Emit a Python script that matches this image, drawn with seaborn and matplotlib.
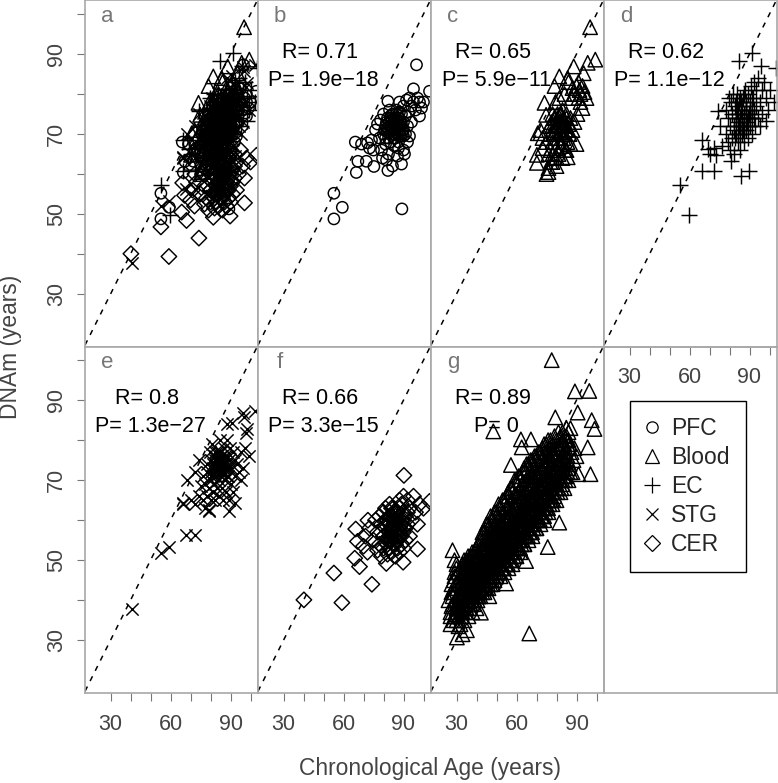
import matplotlib
matplotlib.use("Agg")
import matplotlib.pyplot as plt
from matplotlib.lines import Line2D
import pandas as pd
import seaborn as sns

pfc_age = [96.5, 95, 82.2, 103, 55.2, 59.4, 55.2, 89.2, 66.4, 67.2,
           71.4, 75.2, 82.2, 65.9, 69, 72, 73, 74, 76, 75,
           77, 78, 78.5, 79, 79.5, 80, 80, 81, 81, 81.5,
           82, 82, 82.5, 83, 83, 83.5, 84, 84, 84.5, 85,
           85, 85.5, 86, 86, 86.5, 87, 87, 87.5, 87.5, 88,
           88, 88.5, 89, 89, 89.5, 90, 90, 90, 90.5, 91,
           91, 91.5, 92, 92, 92.5, 93, 93, 94, 94, 95,
           96, 97, 98, 98, 99, 100, 90, 85, 83, 87,
           80.5, 81.5, 82.5, 83.5, 84.5, 85.5, 86.5, 87.5, 88.5, 89.5,
           81, 82, 83, 84, 85, 86, 87, 88, 89, 90,
           83.5, 84.5, 85.5, 86.5, 87.5, 84, 86, 88, 85, 87]
pfc_dnam = [87.3, 81.3, 78.2, 80.7, 55.2, 51.7, 48.8, 51.3, 60.4, 63.2,
            63.2, 61.9, 60.9, 68, 67.5, 67.8, 66.5, 68.5, 71, 66,
            72.5, 69, 73.5, 66, 64, 70, 75, 72, 67.5, 63.5,
            74, 70.5, 65, 72, 76, 68, 73, 70, 62, 75,
            71.5, 67, 73, 69, 76, 71, 64.5, 74, 66.5, 72,
            78, 69.5, 75, 62.5, 71, 77, 73, 66, 65, 74.5,
            70, 78.5, 72, 68, 75.5, 79, 69.5, 77, 73, 78,
            76, 79, 78, 74.5, 76.5, 78, 71, 73, 71, 73,
            71, 73, 69, 74, 72, 70, 75, 68, 73, 70,
            69, 71.5, 73, 71, 69, 72, 70, 75.5, 72.5, 69.5,
            74.5, 75, 74, 72, 72.5, 71.5, 70.5, 71, 70, 73.5]

blood_age = [96.8, 99.4, 95.6, 88.6, 93.6, 81.4, 85.6, 70.2, 70.2, 76,
             85.6, 80, 74, 74.8, 70.6, 79, 75, 76, 77, 73,
             73, 72, 76.5, 78, 78, 79, 79, 79.5, 80, 80,
             80.5, 81, 81, 81.5, 82, 82, 82.5, 83, 83, 83.5,
             84, 84, 84.5, 85, 85, 85.5, 86, 86, 86.5, 87,
             87, 87.5, 88, 88, 89, 89, 90, 90, 90.5, 91,
             91, 91.5, 92, 92, 93, 93, 94, 95, 82, 84,
             77, 78, 79, 80, 81, 82, 83, 84, 85, 86,
             77.5, 78.5, 79.5, 80.5, 81.5, 82.5, 83.5, 84.5, 78, 80,
             76, 77, 78, 79, 75, 80, 81, 82, 83, 85]
blood_dnam = [96.7, 88.6, 87.8, 86.9, 85.2, 84.4, 84, 64.8, 62.8, 60.5,
              64.2, 64.2, 77.8, 74.8, 70.2, 82, 60, 61.5, 63, 66.5,
              69, 71, 72, 65, 68, 70.5, 74, 78, 66.5, 72,
              75, 69, 72.5, 79, 70.5, 74.5, 67, 72, 76, 69,
              73, 80, 66, 71, 75, 68, 72.5, 83, 70, 67.5,
              74, 79, 71, 81.5, 73, 80, 67.5, 82, 75, 79,
              83, 81, 78, 80, 82, 76.5, 80.5, 79, 73, 70,
              70, 72, 74, 71, 73, 75, 70, 72, 74, 71,
              73, 70, 72, 74, 70.5, 72, 74, 71, 75, 69,
              65, 66, 63, 64, 68, 62, 65, 67, 64, 66]

ec_age = [59.8, 55.2, 91, 84.8, 95.6, 103, 66.4, 72.2, 85.6, 89.8,
          80.6, 73, 66.4, 69, 74, 98, 70, 72, 76, 75,
          78, 78, 79, 79, 79.5, 80, 80, 80.5, 81, 81,
          81.5, 82, 82, 82.5, 83, 83, 83.5, 84, 84, 84.5,
          85, 85, 85.5, 86, 86, 86.5, 87, 87, 87.5, 88,
          88, 88.5, 89, 89, 89.5, 90, 90, 90.5, 91, 91,
          91.5, 92, 92, 92.5, 93, 93, 94, 94, 95, 95,
          96, 96, 97, 98, 99, 100, 102, 83, 87, 90,
          82, 83, 84, 85, 86, 87, 88, 89, 90, 91,
          83, 84, 85, 86, 87, 88, 89, 90, 91, 92,
          84, 85, 86, 87, 88, 82.5, 83.5, 84.5, 85.5, 86.5]
ec_dnam = [49.8, 57.2, 90.2, 88.2, 86.9, 86.5, 60.7, 60.8, 59.4, 60.7,
           63.2, 64.8, 68.6, 66.3, 75.8, 73.3, 65, 66.5, 67, 72,
           70, 76, 68, 74, 79, 66, 72, 78, 69, 75,
           80, 65, 71, 77, 70, 74, 80, 68, 73, 78,
           66, 72, 76, 70, 74, 79, 68, 75, 81, 71,
           77, 73, 69, 80, 75, 72, 78, 82, 74, 70,
           79, 76, 83, 72, 81, 77, 74, 84, 78, 72,
           81, 75, 83, 79, 76, 81, 78, 75, 72, 75,
           72, 74, 76, 70, 72, 74, 76, 72, 74, 76,
           78, 70, 74, 77, 71, 78, 74, 76, 79, 74,
           75, 79, 73, 80, 75, 69, 76, 72, 78, 71]

stg_age = [40.6, 55.2, 59, 67.6, 72.2, 66.4, 89.2, 92.2, 79.2, 96.4,
           102.2, 98, 90.6, 96.6, 97.5, 66, 68, 70, 72, 72,
           74, 74, 75, 76, 76, 77, 77, 78, 78, 79,
           79, 79.5, 80, 80, 80.5, 81, 81, 81.5, 82, 82,
           82.5, 83, 83, 83.5, 84, 84, 84.5, 85, 85, 85.5,
           86, 86, 86.5, 87, 87, 87.5, 88, 88, 88.5, 89,
           89, 89.5, 90, 90, 91, 91, 92, 92, 93, 94,
           95, 95, 96, 84, 85, 86, 83, 84, 85, 86,
           87, 84.5, 82.5, 85.5, 78, 80, 82, 97, 99, 88,
           80, 81, 82, 83, 84, 85, 86, 87, 88, 89,
           81, 82, 83, 84, 85, 86, 87, 88, 80, 82]
stg_dnam = [37.8, 51.9, 53.2, 56.3, 56.3, 64.2, 62.3, 64.4, 62.3, 86.7,
            87.3, 82.8, 84.4, 85.8, 81.8, 64, 70, 65, 64, 72,
            66, 75, 68.5, 65, 71, 63, 69, 66, 74, 62.5,
            68, 77, 65, 71, 79, 67, 73, 69, 65, 75,
            71, 68, 77, 73, 66, 70, 80, 72, 75, 68,
            65, 74, 78, 70, 76, 67, 73, 80, 71, 65,
            75, 78, 69, 73, 67, 77, 71, 75, 74, 72,
            77, 70, 73, 74, 74, 74, 73, 75, 76, 72,
            73, 72, 74, 75, 72, 70, 72, 78, 76, 84,
            72, 74, 76, 73, 75, 77, 72, 74, 76, 73,
            71, 73, 75, 77, 71, 73, 75, 71, 75, 77]

cer_age = [40.2, 55.2, 59.2, 74.2, 90.2, 66.1, 72.2, 67, 65.6, 68,
           81.4, 89.8, 97, 103, 70, 71, 72, 73, 75, 76,
           77, 77, 78, 78, 79, 79, 80, 80, 80, 81,
           81, 81, 82, 82, 82, 83, 83, 83, 84, 84,
           84, 85, 85, 85, 86, 86, 86, 87, 87, 87,
           88, 88, 88, 89, 89, 89, 90, 90, 90, 91,
           91, 92, 92, 93, 93, 94, 95, 96, 97, 98,
           100, 84, 85, 86, 83, 87, 85, 86, 84, 88,
           80, 81, 82, 83, 84, 85, 86, 87, 88, 89,
           81, 82, 83, 84, 85, 86, 87, 88, 89, 90,
           86, 87, 88, 89, 90, 91, 92, 83, 84, 85]
cer_dnam = [40.1, 46.8, 39.4, 44, 71.2, 57.8, 60, 54.7, 50.5, 48.4,
            49.2, 49.5, 52.8, 64.7, 53.5, 56, 52, 58, 55, 60,
            52.5, 57, 54, 61, 51, 59, 53, 56, 62, 54.5,
            58, 63, 51.5, 55, 60, 53, 57, 64, 52, 56,
            61, 54, 58, 63, 51, 55.5, 60, 53, 57.5, 62,
            52, 56, 65, 54, 59, 64, 53, 57, 66, 55,
            61, 59, 65, 56, 63, 60, 66, 62, 59, 64,
            63, 58, 57, 59, 59, 60, 60, 57, 55, 58,
            56, 58, 60, 55, 57, 59, 61, 55, 57, 59,
            60, 54, 56, 58, 60, 54, 56, 58, 60, 62,
            62, 60, 63, 56, 60, 58, 62, 61, 63, 62]

all_blood_age = [77.6, 66.4, 75.6, 89.2, 96.4, 90.6, 79.4, 97.6, 99, 48.4,
                 62.2, 67.2, 62.6, 57.2, 95.6, 97, 91, 81.4, 64.8, 54.8,
                 46.4, 42.2, 35.2, 30.2, 28, 29, 33, 27, 26, 27.5,
                 27, 28, 27.5, 28.5, 29, 27, 28, 29, 28.5, 27.5,
                 30, 31, 30.5, 29.5, 31, 30, 31.5, 30.5, 30, 31,
                 32, 33, 32.5, 33.5, 32, 33, 32.5, 33.5, 32, 33,
                 34, 35, 34.5, 35.5, 34, 35, 34.5, 35.5, 34, 35,
                 36, 37, 36.5, 37.5, 36, 37, 36.5, 37.5, 36, 37,
                 38, 39, 38.5, 39.5, 38, 39, 38.5, 39.5, 38, 39,
                 40, 41, 40.5, 41.5, 40, 41, 40.5, 41.5, 40, 41,
                 42, 43, 42.5, 43.5, 42, 43, 42.5, 43.5, 42, 43,
                 44, 45, 44.5, 45.5, 44, 45, 44.5, 45.5, 44, 45,
                 46, 47, 46.5, 47.5, 46, 47, 46.5, 47.5, 46, 47,
                 48, 49, 48.5, 49.5, 48, 49, 48.5, 49.5, 48, 49,
                 50, 51, 50.5, 51.5, 50, 51, 50.5, 51.5, 50, 51,
                 52, 53, 52.5, 53.5, 52, 53, 52.5, 53.5, 52, 53,
                 54, 55, 54.5, 55.5, 54, 55, 54.5, 55.5, 54, 55,
                 56, 57, 56.5, 57.5, 56, 57, 56.5, 57.5, 56, 57,
                 58, 59, 58.5, 59.5, 58, 59, 58.5, 59.5, 58, 59,
                 60, 61, 60.5, 61.5, 60, 61, 60.5, 61.5, 60, 61,
                 62, 63, 62.5, 63.5, 62, 63, 62.5, 63.5, 62, 63,
                 64, 65, 64.5, 65.5, 64, 65, 64.5, 65.5, 64, 65,
                 66, 67, 66.5, 67.5, 66, 67, 66.5, 67.5, 66, 67,
                 68, 69, 68.5, 69.5, 68, 69, 68.5, 69.5, 68, 69,
                 70, 71, 70.5, 71.5, 70, 71, 70.5, 71.5, 70, 71,
                 72, 73, 72.5, 73.5, 72, 73, 72.5, 73.5, 72, 73,
                 74, 75, 74.5, 75.5, 74, 75, 74.5, 75.5, 74, 75,
                 76, 77, 76.5, 77.5, 76, 77, 76.5, 77.5, 76, 77,
                 78, 79, 78.5, 79.5, 78, 79, 78.5, 79.5, 78, 79,
                 80, 81, 80.5, 81.5, 80, 81, 80.5, 81.5, 80, 81,
                 82, 83, 82.5, 83.5, 82, 83, 82.5, 83.5, 82, 83,
                 84, 85, 84.5, 85.5, 84, 85, 84.5, 85.5, 84, 85,
                 86, 87, 86.5, 87.5, 86, 87, 88, 88.5, 89, 90,
                 29, 30, 29.5, 28.5, 30.5, 29, 30, 28.5, 29.5, 30.5,
                 31, 32, 31.5, 30.5, 32.5, 31, 32, 30.5, 31.5, 32.5,
                 33, 34, 33.5, 32.5, 34.5, 33, 34, 32.5, 33.5, 34.5,
                 35, 36, 35.5, 34.5, 36.5, 35, 36, 34.5, 35.5, 36.5,
                 37, 38, 37.5, 36.5, 38.5, 37, 38, 36.5, 37.5, 38.5,
                 39, 40, 39.5, 38.5, 40.5, 39, 40, 38.5, 39.5, 40.5,
                 41, 42, 41.5, 40.5, 42.5, 41, 42, 40.5, 41.5, 42.5,
                 43, 44, 43.5, 42.5, 44.5, 43, 44, 42.5, 43.5, 44.5,
                 45, 46, 45.5, 44.5, 46.5, 45, 46, 44.5, 45.5, 46.5,
                 47, 48, 47.5, 46.5, 48.5, 47, 48, 46.5, 47.5, 48.5,
                 49, 50, 49.5, 48.5, 50.5, 49, 50, 48.5, 49.5, 50.5,
                 51, 52, 51.5, 50.5, 52.5, 51, 52, 50.5, 51.5, 52.5,
                 53, 54, 53.5, 52.5, 54.5, 53, 54, 52.5, 53.5, 54.5,
                 55, 56, 55.5, 54.5, 56.5, 55, 56, 54.5, 55.5, 56.5,
                 57, 58, 57.5, 56.5, 58.5, 57, 58, 56.5, 57.5, 58.5,
                 59, 60, 59.5, 58.5, 60.5, 59, 60, 58.5, 59.5, 60.5,
                 61, 62, 61.5, 60.5, 62.5, 61, 62, 60.5, 61.5, 62.5,
                 63, 64, 63.5, 62.5, 64.5, 63, 64, 62.5, 63.5, 64.5,
                 65, 66, 65.5, 64.5, 66.5, 65, 66, 64.5, 65.5, 66.5,
                 67, 68, 67.5, 66.5, 68.5, 67, 68, 66.5, 67.5, 68.5,
                 69, 70, 69.5, 68.5, 70.5, 69, 70, 68.5, 69.5, 70.5,
                 71, 72, 71.5, 70.5, 72.5, 71, 72, 70.5, 71.5, 72.5,
                 73, 74, 73.5, 72.5, 74.5, 73, 74, 72.5, 73.5, 74.5,
                 75, 76, 75.5, 74.5, 76.5, 75, 76, 74.5, 75.5, 76.5,
                 77, 78, 77.5, 76.5, 78.5, 77, 78, 76.5, 77.5, 78.5,
                 79, 80, 79.5, 78.5, 80.5, 79, 80, 78.5, 79.5, 80.5,
                 81, 82, 81.5, 80.5, 82.5, 81, 82, 80.5, 81.5, 82.5,
                 83, 84, 83.5, 82.5, 84.5, 83, 84, 82.5, 83.5, 84.5,
                 85, 86, 85.5, 84.5, 86.5, 85, 86, 84.5, 85.5, 86.5,
                 34.3, 35.3, 34.8, 33.8, 35.8, 34.3, 35.3, 33.8, 34.8, 35.8,
                 36.3, 37.3, 36.8, 35.8, 37.8, 36.3, 37.3, 35.8, 36.8, 37.8,
                 38.3, 39.3, 38.8, 37.8, 39.8, 38.3, 39.3, 37.8, 38.8, 39.8,
                 40.3, 41.3, 40.8, 39.8, 41.8, 40.3, 41.3, 39.8, 40.8, 41.8,
                 42.3, 43.3, 42.8, 41.8, 43.8, 42.3, 43.3, 41.8, 42.8, 43.8,
                 44.3, 45.3, 44.8, 43.8, 45.8, 44.3, 45.3, 43.8, 44.8, 45.8,
                 46.3, 47.3, 46.8, 45.8, 47.8, 46.3, 47.3, 45.8, 46.8, 47.8,
                 48.3, 49.3, 48.8, 47.8, 49.8, 48.3, 49.3, 47.8, 48.8, 49.8,
                 50.3, 51.3, 50.8, 49.8, 51.8, 50.3, 51.3, 49.8, 50.8, 51.8,
                 52.3, 53.3, 52.8, 51.8, 53.8, 52.3, 53.3, 51.8, 52.8, 53.8,
                 54.3, 55.3, 54.8, 53.8, 55.8, 54.3, 55.3, 53.8, 54.8, 55.8,
                 56.3, 57.3, 56.8, 55.8, 57.8, 56.3, 57.3, 55.8, 56.8, 57.8,
                 58.3, 59.3, 58.8, 57.8, 59.8, 58.3, 59.3, 57.8, 58.8, 59.8,
                 60.3, 61.3, 60.8, 59.8, 61.8, 60.3, 61.3, 59.8, 60.8, 61.8,
                 62.3, 63.3, 62.8, 61.8, 63.8, 62.3, 63.3, 61.8, 62.8, 63.8,
                 64.3, 65.3, 64.8, 63.8, 65.8, 64.3, 65.3, 63.8, 64.8, 65.8,
                 66.3, 67.3, 66.8, 65.8, 67.8, 66.3, 67.3, 65.8, 66.8, 67.8,
                 68.3, 69.3, 68.8, 67.8, 69.8, 68.3, 69.3, 67.8, 68.8, 69.8,
                 70.3, 71.3, 70.8, 69.8, 71.8, 70.3, 71.3, 69.8, 70.8, 71.8,
                 72.3, 73.3, 72.8, 71.8, 73.8, 72.3, 73.3, 71.8, 72.8, 73.8,
                 74.3, 75.3, 74.8, 73.8, 75.8, 74.3, 75.3, 73.8, 74.8, 75.8,
                 76.3, 77.3, 76.8, 75.8, 77.8, 76.3, 77.3, 75.8, 76.8, 77.8]
all_blood_dnam = [100, 31.7, 53.3, 92.2, 92.3, 86.9, 85.7, 85, 82.8, 82.2,
                  80.2, 80.2, 78.2, 73.8, 78.2, 71.5, 71.5, 59.4, 49.8, 44.2,
                  41, 36.9, 32.5, 30.7, 52.5, 50, 31.5, 36, 40, 44,
                  37, 39, 42, 45, 47, 34, 41, 36, 43, 38.5,
                  35, 38, 41, 44, 47, 36.5, 42, 39.5, 49, 33.5,
                  34, 37, 40, 43, 46, 49, 36, 39, 42, 45,
                  35, 38, 41, 44, 47, 50, 37, 40, 43, 46,
                  36, 39, 42, 45, 48, 51, 38, 41, 44, 47,
                  37, 40, 43, 46, 49, 52, 39, 42, 45, 48,
                  38, 41, 44, 47, 50, 54, 40, 43, 46, 52,
                  41, 44, 47, 50, 53, 57, 43, 46, 49, 55,
                  42, 45, 48, 51, 54, 59, 44, 47, 50, 56,
                  43, 46, 49, 52, 55, 61, 45, 48, 51, 58,
                  44, 47, 50, 53, 56, 62, 46, 49, 52, 59,
                  46, 49, 52, 55, 58, 64, 48, 51, 54, 61,
                  46, 50, 53, 56, 59, 65, 48, 52, 55, 62,
                  47, 51, 54, 57, 60, 66, 49, 53, 56, 63,
                  48, 52, 55, 58, 61, 68, 50, 54, 57, 65,
                  49, 53, 56, 59, 62, 70, 51, 55, 58, 66,
                  51, 55, 58, 61, 64, 71, 53, 57, 60, 67,
                  52, 56, 59, 62, 65, 72, 54, 58, 61, 69,
                  54, 58, 61, 64, 67, 74, 56, 60, 63, 70,
                  55, 59, 62, 65, 68, 75, 57, 61, 64, 71,
                  56, 60, 63, 66, 69, 76, 58, 62, 65, 72,
                  58, 62, 65, 68, 71, 77, 60, 64, 67, 74,
                  59, 63, 66, 69, 72, 78, 61, 65, 68, 75,
                  60, 64, 67, 70, 73, 79, 62, 66, 69, 76,
                  62, 66, 69, 72, 75, 80, 64, 68, 71, 77,
                  64, 67, 70, 73, 76, 81, 65, 69, 72, 78,
                  65, 68, 71, 74, 77, 82, 67, 70, 73, 79,
                  67, 70, 72, 75, 78, 82, 68, 71, 74, 80,
                  68, 71, 73, 76, 79, 83, 70, 72, 75, 81,
                  70, 72, 74, 77, 80, 83, 72, 75, 78, 76,
                  36, 38, 40, 42, 44, 46, 48, 35, 37, 39,
                  36, 38, 40, 43, 45, 47, 48, 37, 41, 44,
                  37, 39, 41, 43, 45, 47, 49, 38, 42, 44,
                  38, 40, 42, 44, 46, 48, 50, 39, 43, 45,
                  39, 41, 43, 45, 47, 49, 51, 40, 44, 46,
                  40, 42, 44, 46, 48, 50, 53, 41, 45, 47,
                  41, 43, 45, 47, 49, 51, 55, 42, 46, 48,
                  42, 44, 46, 48, 50, 53, 57, 43, 47, 52,
                  43, 45, 47, 49, 51, 54, 58, 44, 50, 56,
                  44, 46, 48, 50, 52, 55, 60, 45, 53, 57,
                  45, 47, 49, 51, 53, 56, 61, 48, 54, 58,
                  47, 49, 51, 53, 55, 58, 63, 50, 57, 60,
                  48, 50, 52, 54, 56, 59, 64, 51, 57, 61,
                  49, 51, 53, 55, 57, 60, 66, 52, 58, 63,
                  50, 52, 54, 56, 58, 61, 67, 53, 60, 64,
                  52, 54, 56, 58, 60, 63, 69, 55, 61, 66,
                  53, 55, 57, 59, 61, 64, 70, 56, 62, 67,
                  55, 57, 59, 61, 63, 66, 72, 58, 64, 69,
                  56, 58, 60, 62, 64, 67, 73, 59, 65, 70,
                  57, 59, 61, 63, 65, 68, 74, 60, 66, 71,
                  59, 61, 63, 65, 67, 70, 75, 62, 68, 72,
                  60, 62, 64, 66, 68, 71, 76, 63, 69, 73,
                  61, 63, 65, 67, 69, 72, 77, 64, 70, 74,
                  63, 65, 67, 69, 71, 73, 78, 66, 72, 75,
                  65, 67, 69, 71, 73, 75, 79, 68, 74, 77,
                  66, 68, 70, 72, 74, 76, 80, 69, 75, 78,
                  68, 70, 72, 74, 76, 78, 81, 71, 75, 79,
                  69, 71, 73, 75, 77, 79, 81, 72, 76, 78,
                  71, 73, 75, 77, 79, 80, 82, 74, 76, 78,
                  44, 46, 48, 50, 41, 43, 45, 47, 49, 39,
                  45, 47, 49, 51, 42, 44, 46, 48, 50, 40,
                  46, 48, 50, 52, 43, 45, 47, 49, 51, 41,
                  47, 49, 51, 53, 44, 46, 48, 50, 52, 42,
                  48, 50, 52, 55, 45, 47, 49, 51, 53, 43,
                  49, 51, 53, 57, 46, 48, 50, 52, 55, 44,
                  50, 52, 55, 59, 47, 49, 51, 53, 57, 45,
                  51, 53, 56, 60, 48, 50, 52, 54, 58, 46,
                  52, 54, 57, 62, 49, 51, 53, 55, 60, 47,
                  53, 55, 58, 63, 50, 52, 54, 56, 61, 48,
                  54, 56, 60, 65, 51, 53, 55, 58, 63, 49,
                  55, 58, 61, 67, 52, 54, 57, 60, 64, 50,
                  57, 60, 63, 68, 53, 55, 59, 62, 66, 51,
                  58, 61, 64, 70, 55, 57, 60, 63, 67, 53,
                  60, 63, 66, 71, 56, 58, 62, 65, 69, 54,
                  61, 64, 67, 73, 58, 60, 63, 66, 70, 56,
                  63, 66, 69, 74, 59, 61, 65, 68, 72, 57,
                  64, 67, 70, 75, 60, 62, 66, 69, 73, 58,
                  66, 69, 72, 76, 62, 64, 68, 71, 74, 60,
                  67, 70, 73, 77, 63, 65, 69, 72, 75, 61,
                  69, 72, 75, 79, 65, 67, 71, 74, 77, 63,
                  70, 73, 76, 80, 67, 69, 72, 75, 78, 65]

panel_letters = ["a", "b", "c", "d", "e", "f", "g"]
r_labels = [None, "R= 0.71", "R= 0.65", "R= 0.62", "R= 0.8", "R= 0.66", "R= 0.89"]
p_labels = [None, "P= 1.9e\u221218", "P= 5.9e\u221211", "P= 1.1e\u221212",
            "P= 1.3e\u221227", "P= 3.3e\u221215", "P= 0"]
tick_values = [30, 40, 50, 60, 70, 80, 90, 100]
x_tick_labels = ["30", "", "", "60", "", "", "90", ""]
y_tick_labels = ["30", "", "50", "", "70", "", "90", ""]

sns.set_style("white")
plt.rcParams["font.family"] = ["Liberation Sans", "DejaVu Sans"]

GREY = "#a8a8a8"
TEXT = "#444444"
MARKERS = {
    "PFC": ("o", 66),
    "Blood": ("^", 108),
    "EC": ("+", 125),
    "STG": ("x", 78),
    "CER": ("D", 62),
}
TISSUES = {
    "PFC": (pfc_age, pfc_dnam),
    "Blood": (blood_age, blood_dnam),
    "EC": (ec_age, ec_dnam),
    "STG": (stg_age, stg_dnam),
    "CER": (cer_age, cer_dnam),
}


def scatter(ax, age, dnam, tissue):
    marker, size = MARKERS[tissue]
    df = pd.DataFrame({"age": age, "dnam": dnam})
    if marker in ("+", "x"):
        sns.scatterplot(data=df, x="age", y="dnam", marker=marker, s=size, color="black",
                        linewidth=1.05, ax=ax, zorder=2)
    else:
        sns.scatterplot(data=df, x="age", y="dnam", marker=marker, s=size, facecolor="none",
                        edgecolor="black", linewidth=1.05, ax=ax, zorder=2)


fig, axes = plt.subplots(2, 4, figsize=(7.78, 7.83), dpi=100)
fig.subplots_adjust(left=85 / 778, right=777 / 778, top=1 - 0.4 / 783, bottom=1 - 692.7 / 783,
                    wspace=0, hspace=0)
axes = axes.ravel()

panel_tissues = [list(TISSUES), ["PFC"], ["Blood"], ["EC"], ["STG"], ["CER"], ["AllBlood"]]

for i, ax in enumerate(axes):
    if i == 7:
        ax.patch.set_visible(False)
    else:
        ax.axline((30, 30), slope=1, color="black", linewidth=1.1, linestyle=(0, (3.5, 4)), zorder=1.5)
        for tissue in panel_tissues[i]:
            if tissue == "AllBlood":
                scatter(ax, all_blood_age, all_blood_dnam, "Blood")
            else:
                scatter(ax, *TISSUES[tissue], tissue)
        ax.text(22 / 173, 1 - 16 / 346, panel_letters[i], transform=ax.transAxes, fontsize=16,
                color="#777777", ha="center", va="center", zorder=1)
        if r_labels[i]:
            ax.text(0.36, 1 - 52 / 346, r_labels[i], transform=ax.transAxes, fontsize=15.5,
                    color="black", ha="center", va="center", zorder=1)
            ax.text(0.38, 1 - 80 / 346, p_labels[i], transform=ax.transAxes, fontsize=15.5,
                    color="black", ha="center", va="center", zorder=1)

    ax.set_xlim(17.25, 103.75)
    ax.set_ylim(16.9, 103.4)
    for spine in ax.spines.values():
        spine.set_color(GREY)
        spine.set_linewidth(1.2)
    ax.set_xlabel("")
    ax.set_ylabel("")
    ax.set_xticks([])
    ax.set_yticks([])

    if 3 <= i <= 6:
        ax.set_xticks(tick_values)
        ax.set_xticklabels(x_tick_labels)
        ax.tick_params(axis="x", bottom=True, length=5.5, width=0.8, color="#777777", pad=9.5,
                       labelsize=15.5, labelcolor=TEXT)
    if i in (0, 4):
        ax.set_yticks(tick_values)
        ax.set_yticklabels(y_tick_labels, rotation=90, va="center")
        ax.tick_params(axis="y", left=True, length=5.5, width=0.8, color="#777777", pad=7.5,
                       labelsize=15.5, labelcolor=TEXT)

handles = [Line2D([], [], linestyle="none", marker=m, markersize=s ** 0.5, markerfacecolor="none",
                  markeredgecolor="black", markeredgewidth=0.9, label=name)
           for name, (m, s) in MARKERS.items()]
leg = axes[7].legend(handles=handles, loc="upper left", bbox_to_anchor=(26 / 173, 1 - 54 / 346),
                     borderaxespad=0, fontsize=16.5, frameon=True, fancybox=False, framealpha=1,
                     edgecolor="black", labelspacing=0.27, borderpad=0.7, handletextpad=0.6,
                     handlelength=0.5)
leg.get_frame().set_linewidth(1.0)

fig.text(430 / 778, 1 - 768 / 783, "Chronological Age (years)", fontsize=16.4, color=TEXT,
         ha="center", va="center")
fig.text(11 / 778, 1 - 347 / 783, "DNAm (years)", fontsize=16.4, color=TEXT, rotation=90,
         ha="center", va="center")

fig.savefig("out.png", dpi=100)
